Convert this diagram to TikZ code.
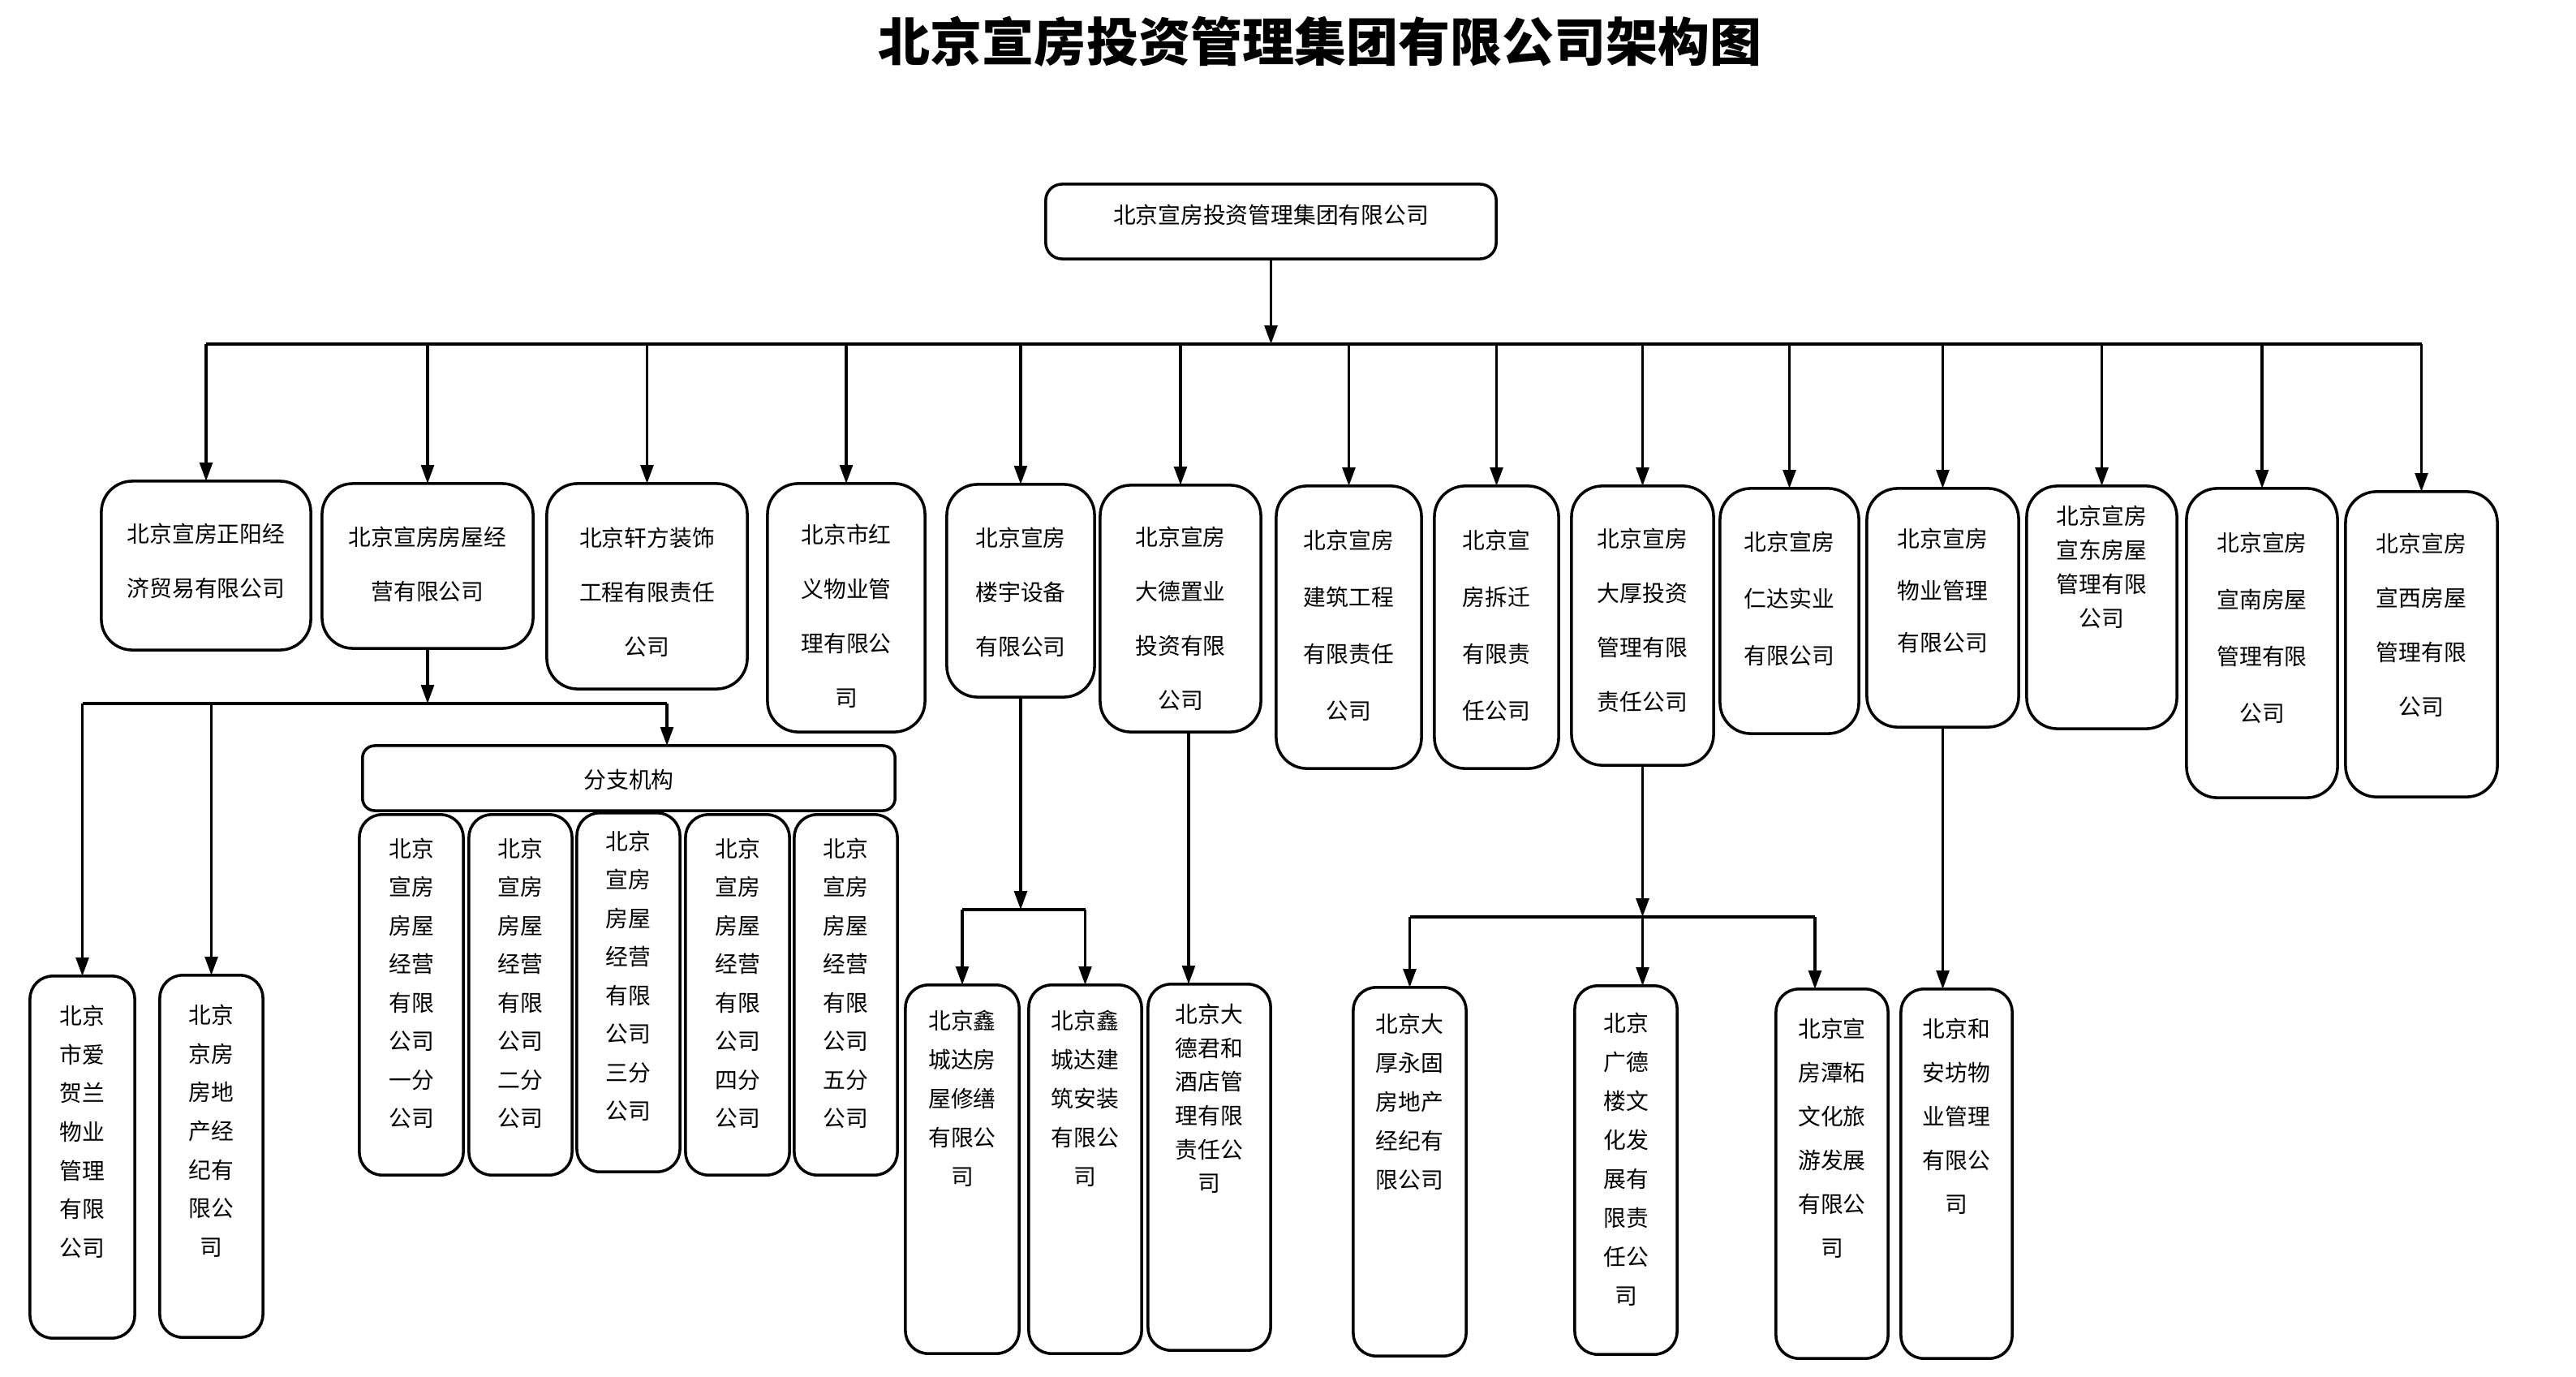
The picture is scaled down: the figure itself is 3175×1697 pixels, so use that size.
\documentclass[tikz,border=0pt]{standalone}
\usepackage{fontspec}
\setmainfont{Noto Sans CJK SC}
\usetikzlibrary{arrows.meta}
\newlength\pxu \setlength\pxu{0.01cm}
% text block: #1 upward shift (px), #2 line pitch (px), #3 lines
\newcommand\vt[3]{\fontsize{7.9pt}{#2\pxu}\selectfont\raisebox{\dimexpr#1\pxu-6\pxu\relax}[0pt][0pt]{\begin{tabular}{@{}c@{}}#3\end{tabular}}}
% box from (x1,y1) to (x2,y2) in px
\newcommand\bx[9]{\node[#9,minimum width={(#4-#2)*0.284528},minimum height={(#5-#3)*0.284528}] (#1) at ({(#2+#4)/2},{(#3+#5)/2}) {\vt{#6}{#7}{#8}};}
\tikzset{
  basebox/.style={draw, line width=1pt, inner sep=0pt, outer sep=0pt},
  orgbox/.style={basebox, rounded corners=0.38cm},
  subbox/.style={basebox, rounded corners=0.28cm},
  topbox/.style={basebox, rounded corners=0.2cm},
  fzbox/.style={basebox, rounded corners=0.15cm},
  conn/.style={line width=0.9pt},
  arr/.style={conn, -{Triangle[length=6.5pt,width=4.5pt]}},
}
\begin{document}
\begin{tikzpicture}[x=0.01cm,y=-0.01cm]
\useasboundingbox (0,0) rectangle (3175,1697);
\node[font=\fontsize{18.2pt}{20pt}\selectfont\bfseries] (title) at (1627,51) {北京宣房投资管理集团有限公司架构图};

\bx{top}{1289}{227}{1844}{319}{10}{67}{北京宣房投资管理集团有限公司}{topbox}

% level 1
\bx{n1}{125}{593}{383}{801}{7}{67}{北京宣房正阳经\\济贸易有限公司}{orgbox}
\bx{n2}{397}{596}{657}{799}{4}{67}{北京宣房房屋经\\营有限公司}{orgbox}
\bx{n3}{674}{596}{921}{849}{-6}{67}{北京轩方装饰\\工程有限责任\\公司}{orgbox}
\bx{n4}{946}{596}{1140}{902}{-9}{67}{北京市红\\义物业管\\理有限公\\司}{orgbox}
\bx{n5}{1167}{597}{1349}{859}{0}{67}{北京宣房\\楼宇设备\\有限公司}{orgbox}
\bx{n6}{1356}{598}{1554}{902}{-11}{67}{北京宣房\\大德置业\\投资有限\\公司}{orgbox}
\bx{n7}{1573}{599}{1752}{947}{4}{70}{北京宣房\\建筑工程\\有限责任\\公司}{orgbox}
\bx{n8}{1768}{599}{1921}{947}{4}{70}{北京宣\\房拆迁\\有限责\\任公司}{orgbox}
\bx{n9}{1937}{599}{2112}{943}{8}{67}{北京宣房\\大厚投资\\管理有限\\责任公司}{orgbox}
\bx{n10}{2120}{602}{2291}{904}{17}{70}{北京宣房\\仁达实业\\有限公司}{orgbox}
\bx{n11}{2301}{602}{2488}{896}{22}{64}{北京宣房\\物业管理\\有限公司}{orgbox}
\bx{n12}{2498}{599}{2683}{898}{46}{42}{北京宣房\\宣东房屋\\管理有限\\公司}{orgbox}
\bx{n13}{2695}{602}{2881}{983}{21}{70}{北京宣房\\宣南房屋\\管理有限\\公司}{orgbox}
\bx{n14}{2891}{606}{3078}{982}{25}{67}{北京宣房\\宣西房屋\\管理有限\\公司}{orgbox}

% level 2
\bx{fz}{447}{919}{1103}{999}{0}{67}{分支机构}{fzbox}
\bx{b1}{443}{1004}{571}{1448}{12}{47.5}{北京\\宣房\\房屋\\经营\\有限\\公司\\一分\\公司}{subbox}
\bx{b2}{578}{1004}{705}{1448}{12}{47.5}{北京\\宣房\\房屋\\经营\\有限\\公司\\二分\\公司}{subbox}
\bx{b3}{711}{1002}{838}{1444}{18}{47.5}{北京\\宣房\\房屋\\经营\\有限\\公司\\三分\\公司}{subbox}
\bx{b4}{845}{1004}{973}{1448}{12}{47.5}{北京\\宣房\\房屋\\经营\\有限\\公司\\四分\\公司}{subbox}
\bx{b5}{979}{1004}{1106}{1448}{12}{47.5}{北京\\宣房\\房屋\\经营\\有限\\公司\\五分\\公司}{subbox}
\bx{ah}{37}{1203}{166}{1649}{29}{47.7}{北京\\市爱\\贺兰\\物业\\管理\\有限\\公司}{subbox}
\bx{jf}{197}{1202}{324}{1648}{29}{47.7}{北京\\京房\\房地\\产经\\纪有\\限公\\司}{subbox}
\bx{x1}{1116}{1214}{1256}{1668}{85}{48}{北京鑫\\城达房\\屋修缮\\有限公\\司}{subbox}
\bx{x2}{1268}{1214}{1407}{1668}{85}{48}{北京鑫\\城达建\\筑安装\\有限公\\司}{subbox}
\bx{djh}{1415}{1213}{1566}{1664}{81}{41.6}{北京大\\德君和\\酒店管\\理有限\\责任公\\司}{subbox}
\bx{dh}{1668}{1217}{1807}{1671}{84}{48}{北京大\\厚永固\\房地产\\经纪有\\限公司}{subbox}
\bx{gd}{1941}{1215}{2067}{1669}{11}{48}{北京\\广德\\楼文\\化发\\展有\\限责\\任公\\司}{subbox}
\bx{tz}{2189}{1219}{2327}{1674}{43}{54}{北京宣\\房潭柘\\文化旅\\游发展\\有限公\\司}{subbox}
\bx{ha}{2343}{1219}{2480}{1674}{70}{54}{北京和\\安坊物\\业管理\\有限公\\司}{subbox}

% main connectors
\coordinate (bar) at (0,424);
\draw[arr] (top.south) -- (top.south |- bar);
\draw[conn] (n1.north |- bar) -- (n14.north |- bar);
\foreach \nd in {n1,n2,n3,n4,n5,n6,n7,n8,n9,n10,n11,n12,n13,n14}
  \draw[arr] (\nd.north |- bar) -- (\nd.north);

% under n2
\coordinate (barA) at (0,867);
\coordinate (fzA) at (822,867);
\draw[arr] (n2.south) -- (n2.south |- barA);
\draw[conn] (ah.north |- barA) -- (fzA);
\draw[arr] (ah.north |- barA) -- (ah.north);
\draw[arr] (jf.north |- barA) -- (jf.north);
\draw[arr] (fzA) -- (fzA |- fz.north);

% under n5 and n6
\coordinate (barB) at (0,1121);
\draw[arr] (n5.south) -- (n5.south |- barB);
\draw[conn] (x1.north |- barB) -- (x2.north |- barB);
\draw[arr] (x1.north |- barB) -- (x1.north);
\draw[arr] (x2.north |- barB) -- (x2.north);
\draw[arr] ([xshift=0.1cm]n6.south) -- ([xshift=0.1cm]n6.south |- djh.north);

% under n9 and n11
\coordinate (barC) at (0,1130);
\coordinate (tzA) at (2237,1130);
\draw[arr] (n9.south) -- (n9.south |- barC);
\draw[conn] (dh.north |- barC) -- (tzA);
\draw[arr] (dh.north |- barC) -- (dh.north);
\draw[arr] (n9.south |- barC) -- (n9.south |- gd.north);
\draw[arr] (tzA) -- (tzA |- tz.north);
\draw[arr] (n11.south) -- (n11.south |- ha.north);
\end{tikzpicture}
\end{document}
